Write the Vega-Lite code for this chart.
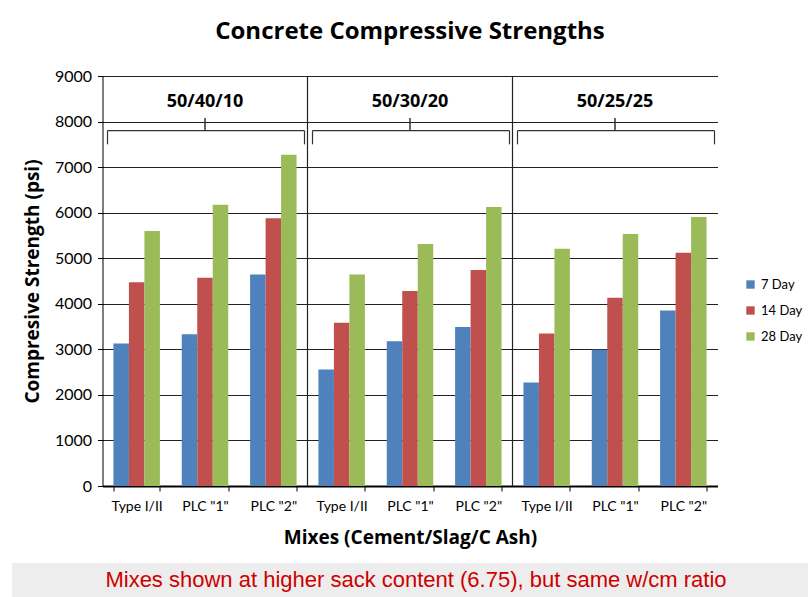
{
  "$schema": "https://vega.github.io/schema/vega-lite/v6.json",
  "background": "white",
  "padding": {"left": 12, "top": 20, "right": 0, "bottom": 0},
  "config": {
    "font": "Lato",
    "view": {"stroke": null},
    "axis": {"labelFont": "Lato", "titleFont": "Open Sans"}
  },
  "datasets": {
    "strength": [
      {"group": "50/40/10", "slot": "50/40/10|Type I/II", "series": "7 Day", "psi": 3130},
      {"group": "50/40/10", "slot": "50/40/10|Type I/II", "series": "14 Day", "psi": 4470},
      {"group": "50/40/10", "slot": "50/40/10|Type I/II", "series": "28 Day", "psi": 5600},
      {"group": "50/40/10", "slot": "50/40/10|PLC \"1\"", "series": "7 Day", "psi": 3330},
      {"group": "50/40/10", "slot": "50/40/10|PLC \"1\"", "series": "14 Day", "psi": 4570},
      {"group": "50/40/10", "slot": "50/40/10|PLC \"1\"", "series": "28 Day", "psi": 6175},
      {"group": "50/40/10", "slot": "50/40/10|PLC \"2\"", "series": "7 Day", "psi": 4640},
      {"group": "50/40/10", "slot": "50/40/10|PLC \"2\"", "series": "14 Day", "psi": 5880},
      {"group": "50/40/10", "slot": "50/40/10|PLC \"2\"", "series": "28 Day", "psi": 7270},
      {"group": "50/30/20", "slot": "50/30/20|Type I/II", "series": "7 Day", "psi": 2560},
      {"group": "50/30/20", "slot": "50/30/20|Type I/II", "series": "14 Day", "psi": 3585},
      {"group": "50/30/20", "slot": "50/30/20|Type I/II", "series": "28 Day", "psi": 4640},
      {"group": "50/30/20", "slot": "50/30/20|PLC \"1\"", "series": "7 Day", "psi": 3175},
      {"group": "50/30/20", "slot": "50/30/20|PLC \"1\"", "series": "14 Day", "psi": 4280},
      {"group": "50/30/20", "slot": "50/30/20|PLC \"1\"", "series": "28 Day", "psi": 5310},
      {"group": "50/30/20", "slot": "50/30/20|PLC \"2\"", "series": "7 Day", "psi": 3490},
      {"group": "50/30/20", "slot": "50/30/20|PLC \"2\"", "series": "14 Day", "psi": 4740},
      {"group": "50/30/20", "slot": "50/30/20|PLC \"2\"", "series": "28 Day", "psi": 6125},
      {"group": "50/25/25", "slot": "50/25/25|Type I/II", "series": "7 Day", "psi": 2270},
      {"group": "50/25/25", "slot": "50/25/25|Type I/II", "series": "14 Day", "psi": 3350},
      {"group": "50/25/25", "slot": "50/25/25|Type I/II", "series": "28 Day", "psi": 5210},
      {"group": "50/25/25", "slot": "50/25/25|PLC \"1\"", "series": "7 Day", "psi": 2990},
      {"group": "50/25/25", "slot": "50/25/25|PLC \"1\"", "series": "14 Day", "psi": 4135},
      {"group": "50/25/25", "slot": "50/25/25|PLC \"1\"", "series": "28 Day", "psi": 5530},
      {"group": "50/25/25", "slot": "50/25/25|PLC \"2\"", "series": "7 Day", "psi": 3850},
      {"group": "50/25/25", "slot": "50/25/25|PLC \"2\"", "series": "14 Day", "psi": 5120},
      {"group": "50/25/25", "slot": "50/25/25|PLC \"2\"", "series": "28 Day", "psi": 5905}
    ],
    "groups": [
      {"group": "50/40/10", "start": 0, "end": 3, "mid": 1.5},
      {"group": "50/30/20", "start": 3, "end": 6, "mid": 4.5},
      {"group": "50/25/25", "start": 6, "end": 9, "mid": 7.5}
    ]
  },
  "vconcat": [
    {
      "width": 615,
      "height": 410,
      "title": {
        "text": "Concrete Compressive Strengths",
        "font": "Open Sans",
        "fontSize": 24,
        "fontWeight": "bold",
        "color": "black",
        "anchor": "middle",
        "offset": 24
      },
      "resolve": {"scale": {"x": "independent"}},
      "layer": [
        {
          "data": {"name": "strength"},
          "mark": {"type": "bar"},
          "encoding": {
            "x": {
              "field": "slot",
              "type": "nominal",
              "sort": null,
              "scale": {"paddingInner": 0.32, "paddingOuter": 0.16},
              "axis": {
                "title": "Mixes (Cement/Slag/C Ash)",
                "titleFontSize": 19,
                "titleFontWeight": "bold",
                "titleColor": "black",
                "titlePadding": 15,
                "labelExpr": "split(datum.label, '|')[1]",
                "labelAngle": 0,
                "labelFontSize": 14,
                "labelColor": "black",
                "labelPadding": 8,
                "tickBand": "extent",
                "tickColor": "black",
                "tickSize": 5,
                "domainColor": "black",
                "domainWidth": 2
              }
            },
            "xOffset": {
              "field": "series",
              "type": "nominal",
              "sort": ["7 Day", "14 Day", "28 Day"],
              "scale": {"paddingInner": 0, "paddingOuter": 0}
            },
            "y": {
              "field": "psi",
              "type": "quantitative",
              "scale": {"domain": [0, 9000], "nice": false},
              "axis": {
                "title": "Compresive Strength (psi)",
                "titleFontSize": 19,
                "titleFontWeight": "bold",
                "titleColor": "black",
                "titlePadding": 12,
                "format": "d",
                "values": [0, 1000, 2000, 3000, 4000, 5000, 6000, 7000, 8000, 9000],
                "labelFontSize": 16,
                "labelColor": "black",
                "labelPadding": 6,
                "tickColor": "black",
                "tickSize": 5,
                "domainColor": "black",
                "grid": true,
                "gridColor": "#222222",
                "gridWidth": 1
              }
            },
            "color": {
              "field": "series",
              "type": "nominal",
              "sort": ["7 Day", "14 Day", "28 Day"],
              "scale": {"range": ["#4F81BD", "#C0504D", "#9BBB59"]},
              "legend": {
                "title": null,
                "orient": "none",
                "legendX": 732,
                "legendY": 202,
                "padding": 0,
                "symbolType": "square",
                "symbolSize": 70,
                "symbolStrokeWidth": 0,
                "labelFont": "Lato",
                "labelFontSize": 13,
                "labelColor": "black",
                "labelOffset": 4,
                "rowPadding": 12
              }
            }
          }
        },
        {
          "data": {"name": "groups"},
          "layer": [
            {
              "transform": [{"filter": "datum.start > 0"}],
              "mark": {"type": "rule", "color": "#222222", "strokeWidth": 1.2},
              "encoding": {
                "x": {"field": "start", "type": "quantitative", "scale": {"domain": [0, 9], "nice": false, "zero": false}, "axis": null}
              }
            },
            {
              "mark": {"type": "rule", "color": "#333333", "strokeWidth": 1.2, "xOffset": 5, "x2Offset": -3},
              "encoding": {
                "x": {"field": "start", "type": "quantitative", "scale": {"domain": [0, 9], "nice": false, "zero": false}, "axis": null},
                "x2": {"field": "end"},
                "y": {"datum": 7800}
              }
            },
            {
              "mark": {"type": "rule", "color": "#333333", "strokeWidth": 1.2, "xOffset": 5},
              "encoding": {
                "x": {"field": "start", "type": "quantitative", "axis": null},
                "y": {"datum": 7500},
                "y2": {"datum": 7800}
              }
            },
            {
              "mark": {"type": "rule", "color": "#333333", "strokeWidth": 1.2, "xOffset": -3},
              "encoding": {
                "x": {"field": "end", "type": "quantitative", "axis": null},
                "y": {"datum": 7500},
                "y2": {"datum": 7800}
              }
            },
            {
              "mark": {"type": "rule", "color": "#333333", "strokeWidth": 1.5},
              "encoding": {
                "x": {"field": "mid", "type": "quantitative", "axis": null},
                "y": {"datum": 7800},
                "y2": {"datum": 8080}
              }
            },
            {
              "mark": {"type": "text", "font": "Open Sans", "fontSize": 18, "fontWeight": "bold", "color": "black", "baseline": "middle", "align": "center"},
              "encoding": {
                "x": {"field": "mid", "type": "quantitative", "axis": null},
                "y": {"datum": 8430},
                "text": {"field": "group"}
              }
            }
          ]
        }
      ]
    },
    {
      "width": 796,
      "height": 34,
      "view": {"fill": "#EDEDED", "stroke": null},
      "data": {"values": [{"note": "Mixes shown at higher sack content (6.75), but same w/cm ratio"}]},
      "mark": {"type": "text", "font": "Liberation Sans", "fontSize": 22, "color": "#CC0000", "baseline": "middle", "align": "center", "dx": 6},
      "encoding": {
        "text": {"field": "note"}
      }
    }
  ],
  "spacing": 16,
  "center": true
}
